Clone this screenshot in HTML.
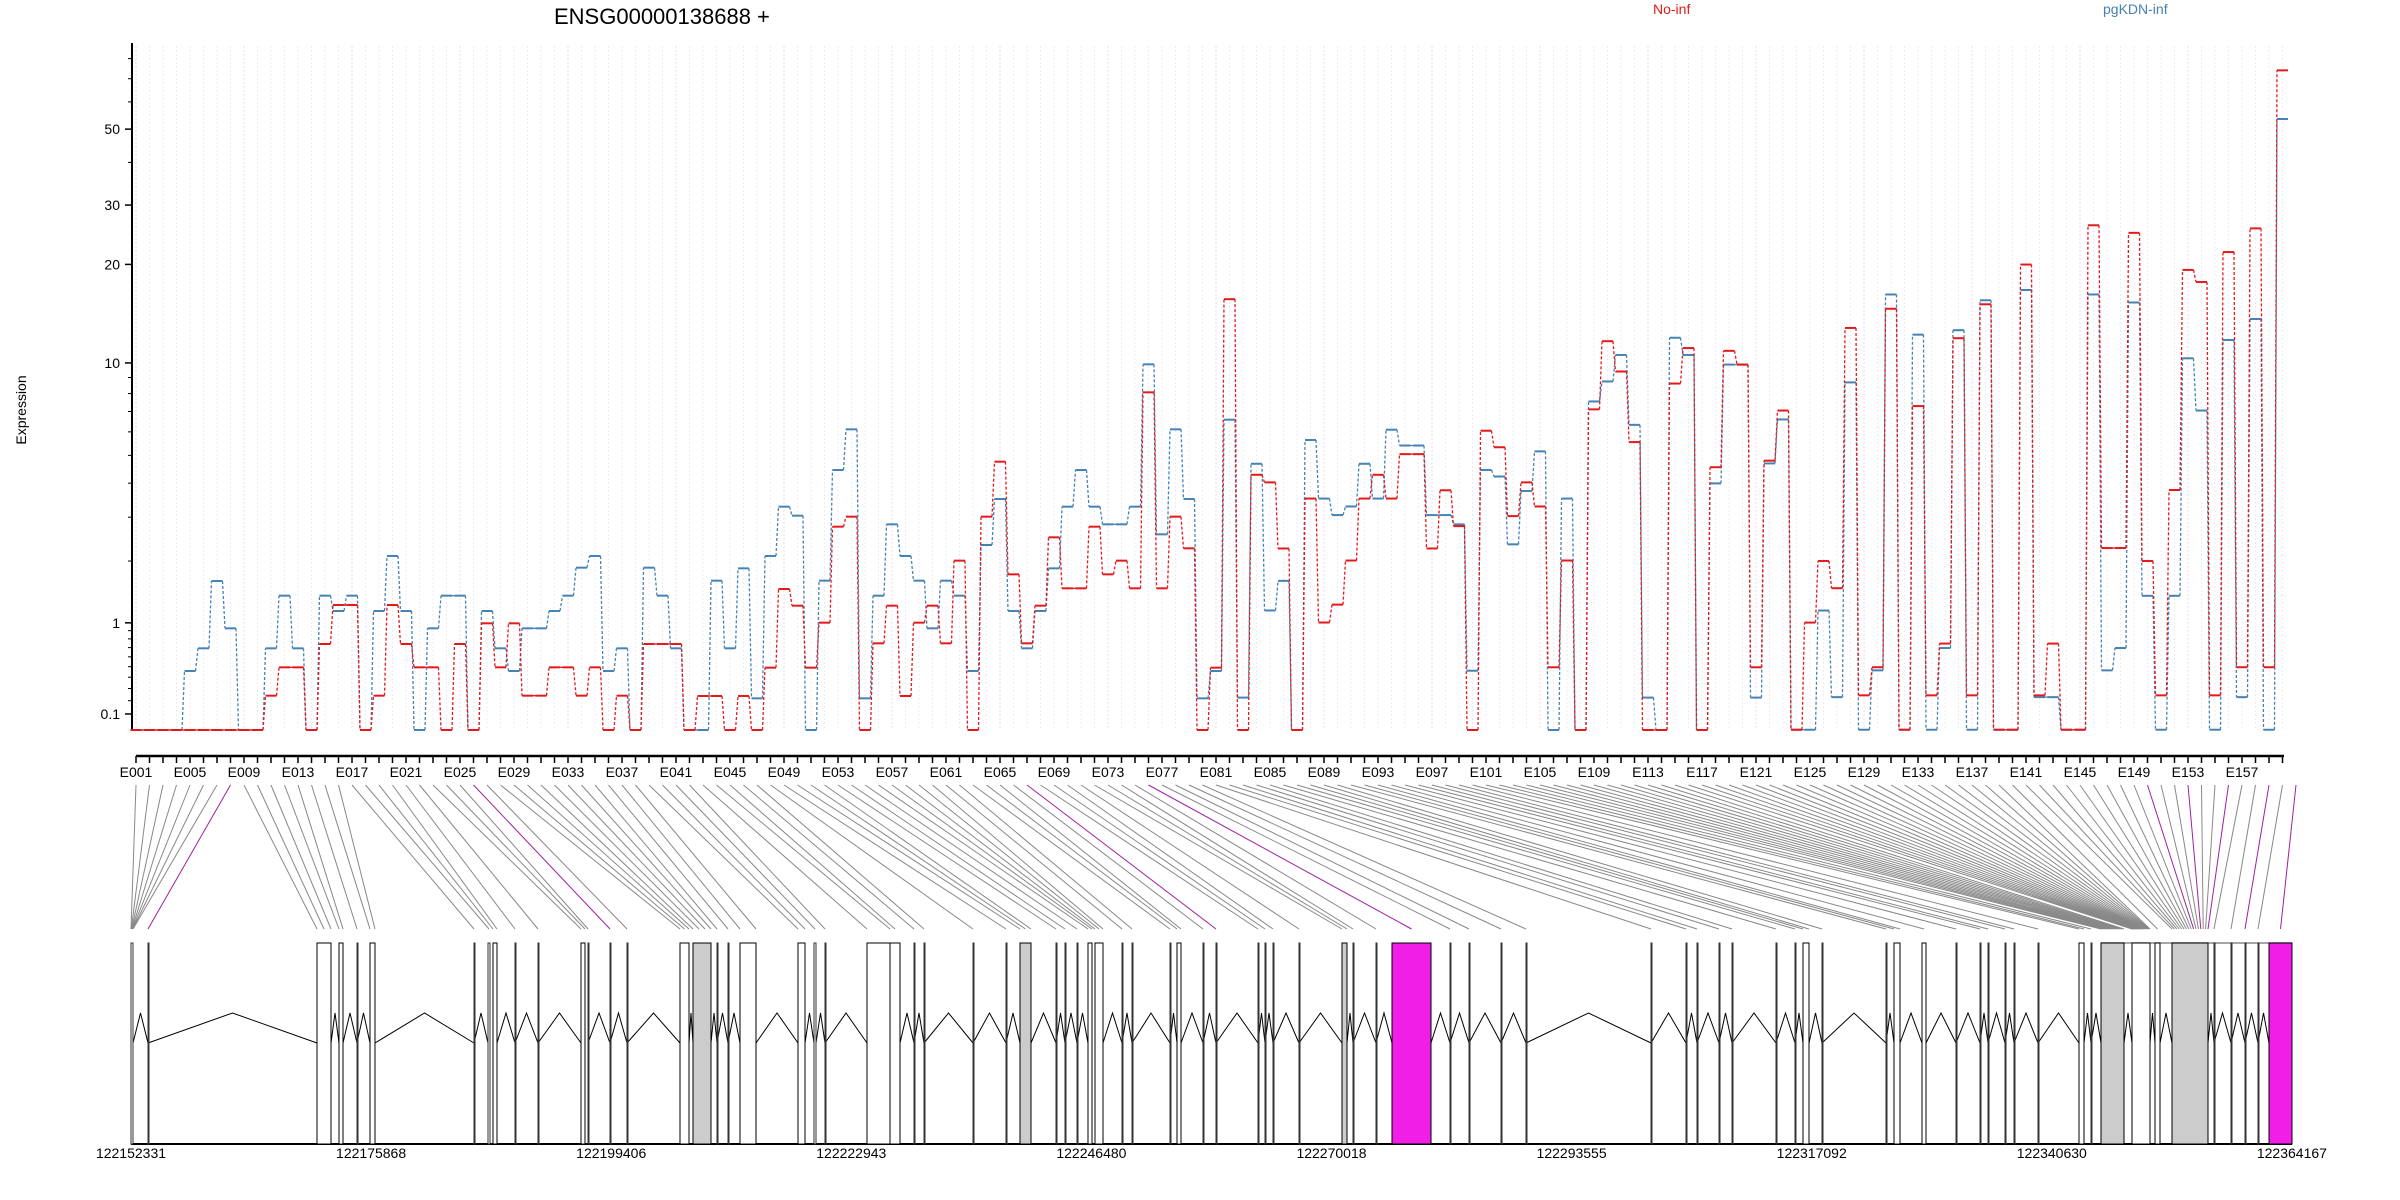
<!DOCTYPE html>
<html><head><meta charset="utf-8"><style>
html,body{margin:0;padding:0;background:#fff;}
svg{display:block;font-family:"Liberation Sans",sans-serif;}
</style></head><body>
<svg id="s" width="2400" height="1200" viewBox="0 0 2400 1200" xmlns="http://www.w3.org/2000/svg">
<text x="554" y="24" font-size="22" fill="#000">ENSG00000138688 +</text>
<text x="1653" y="14" font-size="14" fill="#e31a1c">No-inf</text>
<text x="2103" y="14" font-size="14" fill="#4682b4">pgKDN-inf</text>
<text transform="translate(26,410) rotate(-90)" font-size="14" text-anchor="middle">Expression</text>
<g id="g"></g>
</svg>
<script>
var g=document.getElementById("g"),h=[];
function L(x1,y1,x2,y2,c,w,d){h.push('<line x1="'+x1+'" y1="'+y1+'" x2="'+x2+'" y2="'+y2+'" stroke="'+c+'" stroke-width="'+w+'"'+(d?' stroke-dasharray="'+d+'"':'')+'/>');}
function T(x,y,s,a,fs){h.push('<text x="'+x+'" y="'+y+'" font-size="'+(fs||14)+'" text-anchor="'+a+'">'+s+'</text>');}
function ex(i){return 136+13.5*(i-1);}
for(var i=1;i<=160;i++){L(ex(i),46,ex(i),730,((i-1)%8==0)?"#f0d8f0":"#ececf4",1,"2,2");}
L(132,43,132,731,"#000",2);
function yv(v){return 728.5-351*Math.log10(v+1);}
[[0.1,"0.1"],[1,"1"],[10,"10"],[20,"20"],[30,"30"],[50,"50"]].forEach(function(t){var y=yv(t[0]);L(125,y,132,y,"#000",1.5);T(120,y+5,t[1],"end",14);});
[0.2,0.3,0.4,0.5,0.6,0.7,0.8,0.9,2,3,4,5,6,7,8,9,40,60,70,80].forEach(function(v){var y=yv(v);L(128,y,132,y,"#000",1);});
var C1b=[1110,1110,1110,1110,933,865,663,805,1110,1110,865,707,865,1110,707,753,707,1110,753,588,753,1110,805,707,707,1110,753,865,933,805,805,753,707,623,588,933,865,1110,623,707,865];
var C1r=[1110,1110,1110,1110,1110,1110,1110,1110,1110,1110,1007,922,922,1110,852,735,735,1110,1007,735,852,922,922,1110,852,1110,790,922,790,1007,1007,922,922,1007,922,1110,1007,1110,852,852,852];
var C2b=[1170,1170,722,925,685,1075,648,500,527,1170,722,390,268,1075,767,553,648,722,865,722,767,993,615,477,813,925,813,685,500,390,500,553,553,500,73,583,268,477,1075,993];
var C2r=[1170,1068,1068,1170,1068,1170,983,747,797,983,848,560,530,1170,910,797,1068,848,797,910,662,1170,530,365,703,910,797,592,745,745,560,703,662,745,157,745,530,625,1170,983];
var C3b=[638,1445,766,1192,1106,1540,697,867,915,890,766,867,667,713,713,915,915,942,1367,784,803,1000,845,730,1540,867,1540,585,527,450,653,1445,1540,400,450,1540,823,478,478,1445,765];
var C3r=[288,1540,798,820,1012,1540,867,1227,1175,1047,867,798,867,738,738,1012,843,947,1540,670,718,918,820,890,1357,1047,1540,608,410,498,703,1540,1540,533,430,1540,776,438,478,1357,757];
var C4b=[850,1545,1545,1278,1472,767,1545,1412,570,1545,660,1545,1362,650,1545,583,1545,1545,560,1472,1472,1545,1545,570,1412,1362,588,1245,1545,1245,713,830,1545,672,1472,625,1545,177];
var C4r=[830,1545,1305,1167,1228,645,1468,1405,602,1545,820,1468,1352,668,1468,592,1545,1545,503,1468,1352,1545,1545,415,1138,1138,432,1167,1468,1008,515,542,1468,475,1405,422,1405,68];
function conv(a,o,s){return a.map(function(z){return Math.min(730,o+z/s);});}
var B=[].concat(conv(C1b,360,3),conv(C2b,340,3),conv(C3b,200,2.904),conv(C4b,40,2.24));
var R=[].concat(conv(C1r,360,3),conv(C2r,340,3),conv(C3r,200,2.904),conv(C4r,40,2.24));
function series(A,c){for(var i=0;i<A.length;i++){var x=ex(i+1);L(x-5.5,A[i],x+5.5,A[i],c,2);if(i<A.length-1){var x2=ex(i+2);L(x+5.5,A[i],x2-5.5,A[i+1],c,1.3,"3,2");}}}
series(B,"#4682b4");series(R,"#e31a1c");
L(136,756,2284,756,"#000",2.5);
for(var i=1;i<=160;i++){L(ex(i),756,ex(i),763,"#000",1.5);if((i-1)%4==0){var n=("00"+i).slice(-3);T(ex(i),777,"E"+n,"middle",14);}}
var F=[[131,133,7],[148,148,1,"m"],[317,331,3],[339,343,2],[357,357,1],[370,375,2],[474,474,1],[488,490,1],[493,497,2],[515,515,1],[538,538,1],[581,585,2],[588,588,1],[610,610,1,"m"],[627,627,1],[680,689,3],[693,711,4,"g"],[717,717,1],[728,728,1],[740,756,2],[798,805,2],[814,816,1],[825,825,1],[867,890,2],[890,900,1],[914,914,1],[924,924,1],[973,973,1],[1006,1006,1],[1020,1031,3,"g"],[1056,1056,1],[1065,1065,1],[1077,1077,1],[1088,1092,2],[1095,1103,3],[1122,1122,1],[1132,1132,1],[1170,1170,1],[1177,1181,2],[1203,1203,1],[1216,1216,1,"m"],[1258,1258,1],[1265,1265,1],[1273,1273,1],[1299,1299,1],[1342,1347,2,"g"],[1353,1353,1],[1376,1376,1],[1392,1431,1,"M"],[1450,1450,1],[1469,1469,1],[1501,1501,1],[1526,1526,1],[1651,1651,1],[1686,1686,1],[1697,1697,1],[1719,1719,1],[1732,1732,1],[1776,1776,1],[1795,1795,1],[1803,1809,2],[1822,1822,1],[1886,1886,1],[1894,1900,2],[1922,1926,1],[1956,1956,1],[1980,1980,1],[1988,1988,1],[2005,2005,1],[2014,2014,1],[2038,2038,1],[2079,2084,2],[2091,2091,1],[2101,2124,12,"g"],[2132,2150,24],[2155,2160,1],[2172,2208,16,"g"],[2214,2214,1],[2231,2231,1],[2245,2245,1],[2258,2258,1],[2269,2292,1,"M"]];
var k=1;
F.forEach(function(f){for(var j=0;j<f[2];j++){var gx=f[2]==1?(f[0]+f[1])/2:f[0]+(f[1]-f[0])*j/(f[2]-1);var mg=(f[3]=="m"||f[3]=="M")||(k>=148&&k%3==0);L(ex(k),785,gx,929,mg?"#a020a0":"#888",1);k++;}});
L(131,1144,2292,1144,"#000",2);
L(2101,943,2292,943,"#888",1.5);
for(var i=0;i<F.length;i++){var f=F[i];if(i<F.length-1){var n=F[i+1];if(n[0]-f[1]>3){var m=(f[1]+n[0])/2;h.push('<polyline points="'+f[1]+',1043 '+m+',1013 '+n[0]+',1043" fill="none" stroke="#000" stroke-width="1"/>');}}
var thin=(f[1]-f[0])<3,w=Math.max(f[1]-f[0],1),fill=f[3]=="M"?"#f01ee6":(f[3]=="g"?"#cccccc":"#fff");
h.push('<rect x="'+f[0]+'" y="943" width="'+w+'" height="201" fill="'+fill+'" stroke="'+(thin?"#333":"#000")+'" stroke-width="1"/>');}
var labs=["122152331","122175868","122199406","122222943","122246480","122270018","122293555","122317092","122340630","122364167"];
for(var i=0;i<10;i++){T(131+240.1*i,1158,labs[i],"middle",14);}
g.innerHTML=h.join("");
</script>
</body></html>
